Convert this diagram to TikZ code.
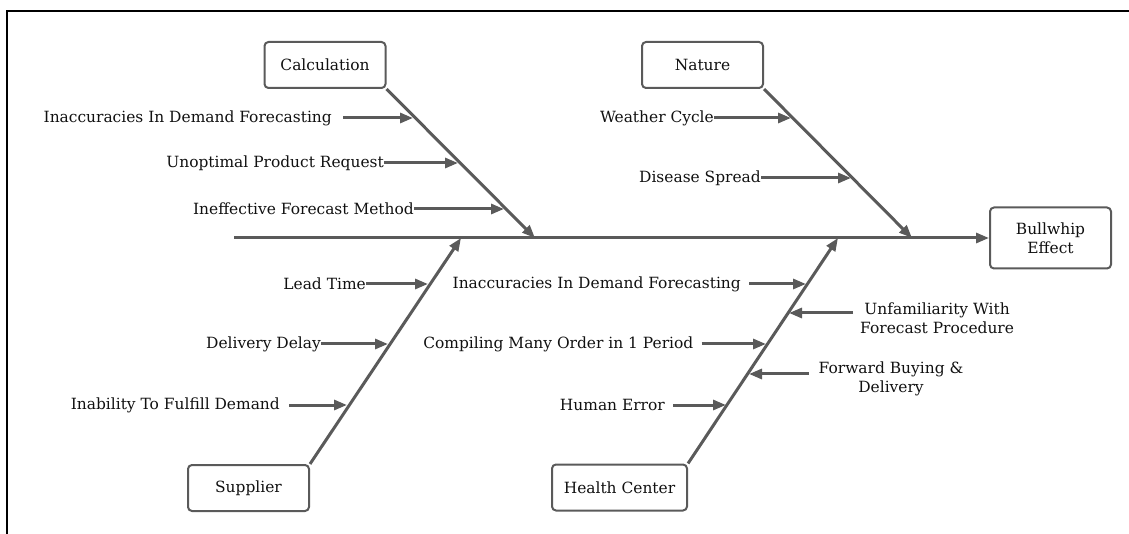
\documentclass[tikz,border=0pt]{standalone}
\usepackage{fontspec}
\setmainfont{DejaVu Serif}
\usetikzlibrary{arrows.meta}
\definecolor{ln}{HTML}{5A5A5A}
\definecolor{tx}{HTML}{111111}
\tikzset{
  cat/.style={draw=ln, line width=2bp, rounded corners=4bp, fill=white, text=tx,
    minimum width=121bp, minimum height=46bp, inner sep=0pt, font=\fontsize{15.5}{19}\selectfont},
  lbl/.style={text=tx, inner sep=0pt, font=\fontsize{15.5}{19}\selectfont},
  rib/.style={draw=ln, line width=3bp, -{Triangle[length=13bp,width=10bp]}},
}
\begin{document}
\begin{tikzpicture}[x=1bp,y=-1bp]
\useasboundingbox (0,0) rectangle (1129,534);
% frame
\draw[black, line width=2bp] (6.5,534) -- (6.5,11.5) -- (1129,11.5);
% category boxes
\node[cat] (calc) at (325,65) {Calculation};
\node[cat] (nature) at (702.5,65) {Nature};
\node[cat, minimum height=61bp, align=center] (bull) at (1050.5,238) {Bullwhip\\Effect};
\node[cat] (supp) at (248.5,488) {Supplier};
\node[cat, minimum width=135bp] (health) at (619.5,487.5) {Health Center};
% spine
\coordinate (sp) at (234,238);
\draw[rib] (sp) -- (bull.west);
% bone ends on spine
\coordinate (cE) at (535,238);
\coordinate (nE) at (912,238);
\coordinate (sE) at (461,238);
\coordinate (hE) at (838,238);
\draw[rib] (calc.south east) -- (cE);
\draw[rib] (nature.south east) -- (nE);
\draw[rib] (supp.north east) -- (sE);
\draw[rib] (health.north east) -- (hE);
% Calculation causes
\node[lbl, anchor=east] (c1) at (332,118) {Inaccuracies In Demand Forecasting};
\node[lbl, anchor=east] (c2) at (384,163) {Unoptimal Product Request};
\node[lbl, anchor=east] (c3) at (414,209) {Ineffective Forecast Method};
\coordinate (c1t) at (413,118);
\coordinate (c2t) at (458,163);
\coordinate (c3t) at (504,209);
\draw[rib] ([xshift=11bp]c1.east) -- (c1t);
\draw[rib] (c2.east) -- (c2t);
\draw[rib] (c3.east) -- (c3t);
% Nature causes
\node[lbl, anchor=east] (n1) at (714,118) {Weather Cycle};
\node[lbl, anchor=east] (n2) at (761,178) {Disease Spread};
\coordinate (n1t) at (791,118);
\coordinate (n2t) at (851,178);
\draw[rib] (n1.east) -- (n1t);
\draw[rib] (n2.east) -- (n2t);
% Supplier causes
\node[lbl, anchor=east] (s1) at (366,284) {Lead Time};
\node[lbl, anchor=east] (s2) at (321,344) {Delivery Delay};
\node[lbl, anchor=east] (s3) at (280,405) {Inability To Fulfill Demand};
\coordinate (s1t) at (428,284);
\coordinate (s2t) at (388,344);
\coordinate (s3t) at (347,405);
\draw[rib] (s1.east) -- (s1t);
\draw[rib] (s2.east) -- (s2t);
\draw[rib] ([xshift=9bp]s3.east) -- (s3t);
% Health Center causes
\node[lbl, anchor=east] (h1) at (741,284) {Inaccuracies In Demand Forecasting};
\node[lbl, anchor=east] (h2) at (693.5,344) {Compiling Many Order in 1 Period};
\node[lbl, anchor=east] (h3) at (665,405) {Human Error};
\coordinate (h1t) at (806,284);
\coordinate (h2t) at (766,344);
\coordinate (h3t) at (726,405);
\draw[rib] ([xshift=8bp]h1.east) -- (h1t);
\draw[rib] ([xshift=8bp]h2.east) -- (h2t);
\draw[rib] ([xshift=8bp]h3.east) -- (h3t);
\node[lbl, align=center, anchor=west] (h4) at (860,318.5) {Unfamiliarity With\\Forecast Procedure};
\node[lbl, align=center] (h5) at (891,378.5) {Forward Buying \&\\Delivery};
\coordinate (h4s) at (853,313);
\coordinate (h4t) at (789,313);
\coordinate (h5s) at (808.5,374);
\coordinate (h5t) at (749,374);
\draw[rib] (h4s) -- (h4t);
\draw[rib] (h5s) -- (h5t);
\end{tikzpicture}
\end{document}
